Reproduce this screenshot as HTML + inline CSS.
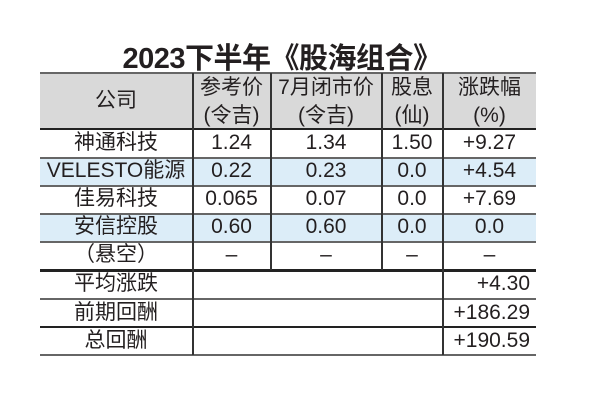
<!DOCTYPE html>
<html><head><meta charset="utf-8"><style>
body{margin:0;width:600px;height:400px;background:#fff;overflow:hidden;font-family:"Liberation Sans","Noto Sans CJK SC",sans-serif;color:#231f20}
.a{position:absolute}
.t{position:absolute;text-align:center;font-size:21px;line-height:28px;white-space:nowrap}
</style></head><body>
<div class="a" style="left:-38px;width:640px;top:41px;text-align:center;font-size:29px;font-weight:bold;line-height:36px;letter-spacing:-0.5px;white-space:nowrap">2023下半年《股海组合》</div>
<div class="a" style="left:40px;top:73px;width:496px;height:56px;background:#d9d9d9"></div>
<div class="a" style="left:40px;top:158px;width:496px;height:28px;background:#dcedf8"></div>
<div class="a" style="left:40px;top:214px;width:496px;height:28px;background:#dcedf8"></div>
<div class="a" style="left:40px;top:72px;width:496px;height:2px;background:#666"></div>
<div class="a" style="left:40px;top:128px;width:496px;height:2px;background:#222"></div>
<div class="a" style="left:40px;top:157px;width:496px;height:1.5px;background:#666"></div>
<div class="a" style="left:40px;top:185px;width:496px;height:1.5px;background:#666"></div>
<div class="a" style="left:40px;top:213px;width:496px;height:1.5px;background:#666"></div>
<div class="a" style="left:40px;top:241px;width:496px;height:1.5px;background:#666"></div>
<div class="a" style="left:40px;top:269px;width:496px;height:3px;background:#222"></div>
<div class="a" style="left:40px;top:298px;width:496px;height:1.5px;background:#666"></div>
<div class="a" style="left:40px;top:326px;width:496px;height:1.5px;background:#222"></div>
<div class="a" style="left:40px;top:354px;width:496px;height:1.5px;background:#666"></div>
<div class="a" style="left:192px;top:73px;width:1.5px;height:282px;background:#333"></div>
<div class="a" style="left:442px;top:73px;width:1.5px;height:282px;background:#333"></div>
<div class="a" style="left:270px;top:73px;width:1.5px;height:197px;background:#333"></div>
<div class="a" style="left:381px;top:73px;width:1.5px;height:197px;background:#333"></div>
<div class="t" style="left:40px;width:152px;top:87px">公司</div>
<div class="t" style="left:193px;width:77px;top:74px">参考价<br>(令吉)</div>
<div class="t" style="left:271px;width:110px;top:74px">7月闭市价<br>(令吉)</div>
<div class="t" style="left:382px;width:60px;top:74px">股息<br>(仙)</div>
<div class="t" style="left:443px;width:93px;top:74px">涨跌幅<br>(%)</div>
<div class="t" style="left:40px;width:152px;top:129px">神通科技</div><div class="t" style="left:193px;width:77px;top:129px">1.24</div><div class="t" style="left:271px;width:110px;top:129px">1.34</div><div class="t" style="left:382px;width:60px;top:129px">1.50</div><div class="t" style="left:443px;width:93px;top:129px">+9.27</div>
<div class="t" style="left:40px;width:152px;top:157px">VELESTO能源</div><div class="t" style="left:193px;width:77px;top:157px">0.22</div><div class="t" style="left:271px;width:110px;top:157px">0.23</div><div class="t" style="left:382px;width:60px;top:157px">0.0</div><div class="t" style="left:443px;width:93px;top:157px">+4.54</div>
<div class="t" style="left:40px;width:152px;top:185px">佳易科技</div><div class="t" style="left:193px;width:77px;top:185px">0.065</div><div class="t" style="left:271px;width:110px;top:185px">0.07</div><div class="t" style="left:382px;width:60px;top:185px">0.0</div><div class="t" style="left:443px;width:93px;top:185px">+7.69</div>
<div class="t" style="left:40px;width:152px;top:213px">安信控股</div><div class="t" style="left:193px;width:77px;top:213px">0.60</div><div class="t" style="left:271px;width:110px;top:213px">0.60</div><div class="t" style="left:382px;width:60px;top:213px">0.0</div><div class="t" style="left:443px;width:93px;top:213px">0.0</div>
<div class="t" style="left:40px;width:152px;top:241px">（悬空）</div><div class="t" style="left:193px;width:77px;top:241px">–</div><div class="t" style="left:271px;width:110px;top:241px">–</div><div class="t" style="left:382px;width:60px;top:241px">–</div><div class="t" style="left:443px;width:93px;top:241px">–</div>
<div class="t" style="left:40px;width:152px;top:270px">平均涨跌</div><div class="t" style="left:443px;width:87px;top:270px;text-align:right">+4.30</div>
<div class="t" style="left:40px;width:152px;top:299px">前期回酬</div><div class="t" style="left:443px;width:87px;top:299px;text-align:right">+186.29</div>
<div class="t" style="left:40px;width:152px;top:327px">总回酬</div><div class="t" style="left:443px;width:87px;top:327px;text-align:right">+190.59</div>
</body></html>
